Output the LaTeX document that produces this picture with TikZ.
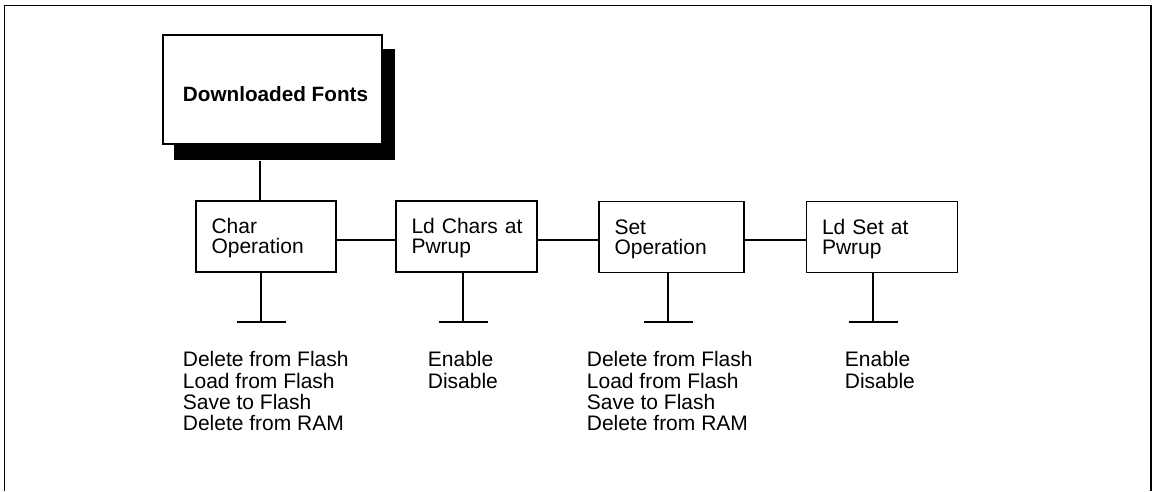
\documentclass[tikz,border=0pt]{standalone}
\usepackage{fontspec}
\setmainfont{Liberation Sans}
\begin{document}
\begin{tikzpicture}[x=1pt,y=-1pt,
  line width=1.8pt,
  txt/.style={font=\fontsize{21}{21.2}\selectfont},
  opbox/.style={draw, fill=white, font=\fontsize{21}{20}\selectfont, align=left, minimum height=71,
    inner xsep=15.5, inner ysep=0pt, execute at begin node=\rule{0pt}{18.5pt}},
  dfbox/.style={draw, fill=white, minimum width=219, minimum height=109,
    font=\fontsize{20.7}{21}\selectfont\bfseries, text height=23.7pt, text depth=0pt},
  shadowbox/.style={fill=black, minimum width=221, minimum height=111, inner sep=0pt},
  opts/.style={txt, align=left, anchor=north west, inner sep=0pt},
  tbar/.style={line cap=butt}
]
\useasboundingbox (0,0) rectangle (1152,491);
% frame (open at the bottom)
\draw (4.5,491) -- (4.5,5.5) -- (1151,5.5) -- (1151,491);

% top box with shadow
\node[shadowbox] (dfshadow) at (284.5,104.5) {};
\node[dfbox] (df) at (272.5,89.5) {\hspace*{6pt}Downloaded Fonts};

% operation boxes
\node[opbox, minimum width=140, text width=109] (char) at (266,236.5) {Char\\Operation};
\node[opbox, minimum width=141, text width=110] (ldc) at (466.5,236.5) {Ld~Chars~at\\Pwrup};
\node[opbox, minimum width=145, text width=114] (setop) at (671.5,237) {Set\\Operation};
\node[opbox, minimum width=151, text width=120] (lds) at (882,237) {Ld~Set~at\\Pwrup};

% reference coordinates
\coordinate (x0) at (260,0);
\coordinate (hy) at (0,240);
\coordinate (s1) at (261,322);
\coordinate (s2) at (463,322);
\coordinate (s3) at (668,322);
\coordinate (s4) at (873,322);

% connectors
\draw (dfshadow.south -| x0) -- (char.north -| x0);
\draw (char.east |- hy) -- (ldc.west |- hy);
\draw (ldc.east |- hy) -- (setop.west |- hy);
\draw (setop.east |- hy) -- (lds.west |- hy);

% stubs with T bars
\foreach \b/\s in {char/s1, ldc/s2, setop/s3, lds/s4}{
  \draw (\b.south -| \s) -- (\s);
  \draw[tbar] ([xshift=-24.5pt]\s) -- ([xshift=24.5pt]\s);
}

% option lists
\node[opts] (l1) at (182,350.8) {Delete from Flash\\Load from Flash\\Save to Flash\\Delete from RAM};
\node[opts] (l2) at (427,350.8) {Enable\\Disable};
\node[opts] (l3) at (586,350.8) {Delete from Flash\\Load from Flash\\Save to Flash\\Delete from RAM};
\node[opts] (l4) at (844,350.8) {Enable\\Disable};
\end{tikzpicture}
\end{document}
